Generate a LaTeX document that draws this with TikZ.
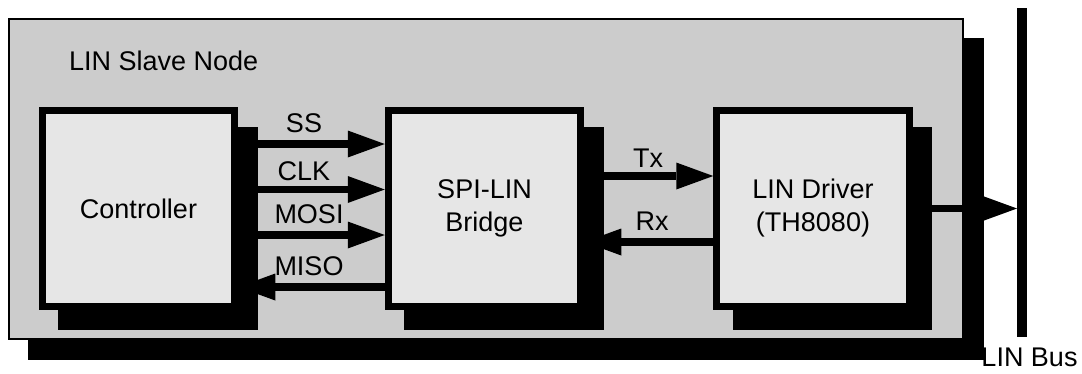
\documentclass[tikz,border=0pt]{standalone}
\usepackage{fontspec}
\setmainfont{Liberation Sans}
\usetikzlibrary{arrows.meta,calc}
\definecolor{outergray}{HTML}{CCCCCC}
\definecolor{boxgray}{HTML}{E6E6E6}
\pgfdeclarelayer{lshadow}
\pgfdeclarelayer{lzero}
\pgfdeclarelayer{lone}
\pgfdeclarelayer{ltwo}
\pgfsetlayers{lshadow,lzero,lone,ltwo,main}
\begin{document}
\begin{tikzpicture}[x=1pt,y=-1pt,
  every node/.style={font=\fontsize{27}{33}\selectfont},
  blockbox/.style={draw=black, line width=7pt, fill=boxgray, minimum width=192.5pt,
    minimum height=196pt, inner sep=0pt, align=center},
  sig/.style={line width=7.5pt, -{Triangle[length=37pt,width=27pt,line width=0pt]}},
  lbl/.style={anchor=base, inner sep=0pt}]
\useasboundingbox (0,0) rectangle (1082,373);

% inner blocks
\node[blockbox] (ctrl) at (138.5,208.5) {Controller};
\node[blockbox] (bridge) at (484.5,208.5) {SPI-LIN\\Bridge};
\node[blockbox] (driver) at (813,208.5) {LIN Driver\\(TH8080)};

% labels
\node[lbl, anchor=base west] (title) at (69,70) {LIN Slave Node};
\node[lbl] (lss) at (304,132) {SS};
\node[lbl] (lclk) at (304,180) {CLK};
\node[lbl] (lmosi) at (309,223) {MOSI};
\node[lbl] (lmiso) at (309,275) {MISO};
\node[lbl] (ltx) at (648,167) {Tx};
\node[lbl] (lrx) at (652,230) {Rx};
\node[lbl] (lbus) at (1029.5,366.5) {LIN Bus};

% bus
\coordinate (bustop) at (1022,8);
\coordinate (busbot) at (1022,337);
\coordinate (busin) at (1017,208.5);
\draw[line width=10pt] (bustop) -- (busbot);

\begin{pgfonlayer}{lzero}
  \node[draw=black, line width=1.5pt, fill=outergray, minimum width=954pt,
        minimum height=320pt, inner sep=0pt] (slave) at (486,179) {};
\end{pgfonlayer}
\begin{pgfonlayer}{lshadow}
  \fill[black] ([shift={(20,20)}]slave.north west) rectangle ([shift={(20,20)}]slave.south east);
\end{pgfonlayer}

\begin{pgfonlayer}{lone}
  \draw[sig] (ctrl.east |- 0,144) -- (bridge.west |- 0,144);
  \draw[sig] (ctrl.east |- 0,189.5) -- (bridge.west |- 0,189.5);
  \draw[sig] (ctrl.east |- 0,235) -- (bridge.west |- 0,235);
  \draw[sig] (bridge.west |- 0,287) -- (ctrl.east |- 0,287);
  \draw[sig] (bridge.east |- 0,176) -- (driver.west |- 0,176);
  \draw[sig] (driver.west |- 0,242) -- (bridge.east |- 0,242);
  \draw[sig] (driver.east) -- (busin);
\end{pgfonlayer}

\begin{pgfonlayer}{ltwo}
  \foreach \b in {ctrl,bridge,driver}{
    \fill[black] ([shift={(19.5,19.5)}]\b.north west) rectangle ([shift={(19.5,19.5)}]\b.south east);
  }
\end{pgfonlayer}
\end{tikzpicture}
\end{document}
